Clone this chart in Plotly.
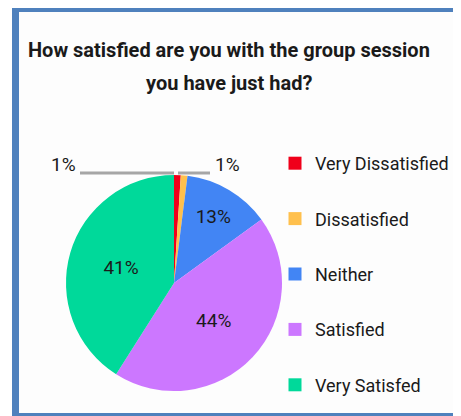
import plotly.graph_objects as go

categories = ["Very Dissatisfied", "Dissatisfied", "Neither", "Satisfied", "Very Satisfed"]
values = [1, 1, 13, 44, 41]
colors = ["#F0001A", "#FFC04D", "#4285F4", "#CC77FF", "#00D99A"]
title_lines = ["How satisfied are you with the group session", "you have just had?"]

# page is rendered with an 8px body margin; size the figure to fill the window
OFF = 8
W, H = 461 - OFF, 416 - OFF
FONT = "Roboto, sans-serif"
TXT = "#1a1a1a"

def px(x):
    return (x - OFF) / W

def py(y):
    return 1 - (y - OFF) / H

inside_text = [f"{v}%" if v > 2 else "" for v in values]

fig = go.Figure()
fig.add_trace(go.Pie(
    labels=categories, values=values, marker=dict(colors=colors, line=dict(width=0)),
    sort=False, direction="clockwise", rotation=0,
    text=inside_text, textinfo="text", textposition="inside",
    insidetextorientation="horizontal",
    textfont=dict(family=FONT, size=19, color=TXT),
    domain=dict(x=[px(66), px(282)], y=[py(391), py(175)]),
    showlegend=False, hoverinfo="label+percent",
))

# legend entries as dummy traces
for c, col in zip(categories, colors):
    fig.add_trace(go.Scatter(
        x=[None], y=[None], mode="markers", name=c,
        marker=dict(symbol="square", size=13, color=col),
        legendgroup=c, showlegend=True,
    ))

small = [(i, v) for i, v in enumerate(values) if v <= 2]
label_pos = [(63, 164, 80, 174), (227, 164, 178, 210)]
shapes = []
annotations = []
for (i, v), (tx, ty, lx0, lx1) in zip(small, label_pos):
    annotations.append(dict(x=px(tx), y=py(ty), xref="paper", yref="paper", text=f"{v}%",
                            xanchor="center", yanchor="middle",
                            showarrow=False, font=dict(family=FONT, size=19, color=TXT)))
    shapes.append(dict(type="line", xref="paper", yref="paper", x0=px(lx0), x1=px(lx1),
                       y0=py(173), y1=py(173), line=dict(color="#A6A6A6", width=3)))

for line, ty in zip(title_lines, [50, 83]):
    annotations.append(dict(x=px(229), y=py(ty), xref="paper", yref="paper",
                            xanchor="center", yanchor="middle",
                            text=f"<b>{line}</b>", showarrow=False,
                            font=dict(family=FONT, size=20, color=TXT)))

# frame
shapes += [
    dict(type="rect", xref="paper", yref="paper", x0=px(19), x1=1, y0=py(413), y1=1,
         fillcolor="#FDFDFD", line=dict(width=0), layer="below"),
    dict(type="rect", xref="paper", yref="paper", x0=px(12), x1=px(19), y0=0, y1=1,
         fillcolor="#4F81BD", line=dict(width=0)),
    dict(type="rect", xref="paper", yref="paper", x0=px(12), x1=1, y0=py(OFF + 4), y1=1,
         fillcolor="#4F81BD", line=dict(width=0)),
    dict(type="rect", xref="paper", yref="paper", x0=px(12), x1=1, y0=py(416), y1=py(413),
         fillcolor="#4F81BD", line=dict(width=0)),
]

fig.update_layout(
    width=W, height=H, margin=dict(l=0, r=0, t=0, b=0),
    paper_bgcolor="white", plot_bgcolor="rgba(0,0,0,0)",
    xaxis=dict(visible=False), yaxis=dict(visible=False),
    shapes=shapes, annotations=annotations,
    legend=dict(x=px(275), y=py(145), xanchor="left", yanchor="top",
                font=dict(family=FONT, size=18, color=TXT),
                tracegroupgap=29, itemwidth=30, bgcolor="rgba(0,0,0,0)"),
)

fig.write_html("out.html")
